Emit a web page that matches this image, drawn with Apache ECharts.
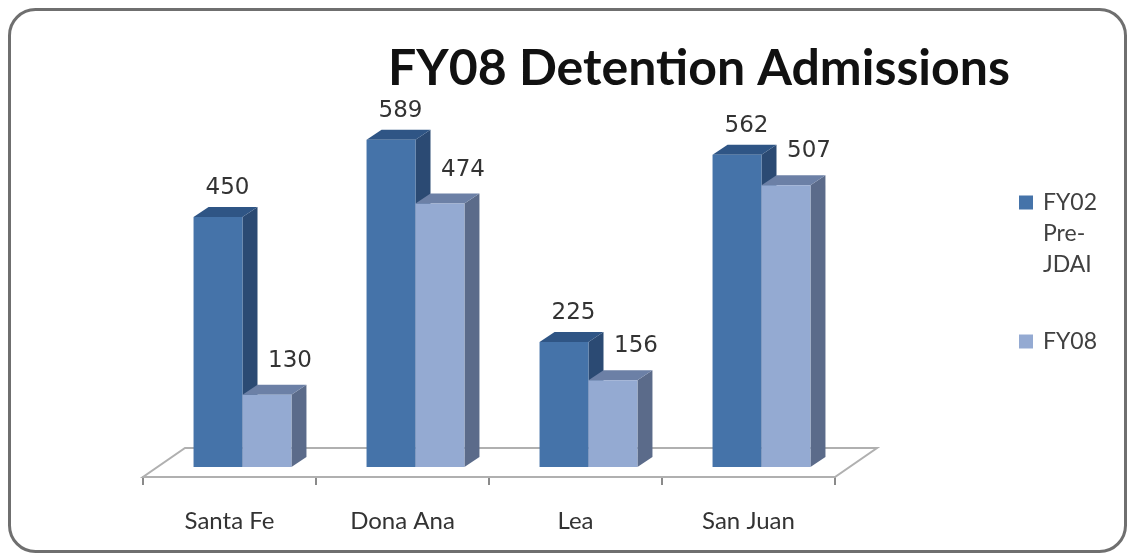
<!DOCTYPE html>
<html>
<head>
<meta charset="utf-8">
<title>FY08 Detention Admissions</title>
<script src="https://cdn.jsdelivr.net/npm/echarts@6/dist/echarts.min.js"></script>
<style>
  html, body { margin: 0; padding: 0; background: #fff; }
  #main { width: 1129px; height: 555px; }
</style>
</head>
<body>
<div id="main"></div>
<script>
// data
var counties = ['Santa Fe', 'Dona Ana', 'Lea', 'San Juan'];
var seriesNames = ['FY02 Pre-JDAI', 'FY08'];
var fy02Values = [450, 589, 225, 562];
var fy08Values = [130, 474, 156, 507];

// 3d look
var DEPTH_X = 15, DEPTH_Y = 10;     // bar depth
var PLANE_X = 13, PLANE_Y = 10;     // bars sit a bit behind the front floor edge
var FLOOR_X = 42, FLOOR_Y = 29;     // floor depth
var BAR_RATIO = 0.283;              // width of one bar / category width

var palette = [
    { front: '#4573a9', top: '#2f5585', side: '#2b4a73' },
    { front: '#94aad2', top: '#6c80a6', side: '#5b6b8a' }
];

function barRenderer(idx) {
    var c = palette[idx];
    return function (params, api) {
        var base = api.coord([api.value(0), 0]);
        var top = api.coord([api.value(0), api.value(1)]);
        var w = api.size([1, 0])[0] * BAR_RATIO;
        var pairCenter = base[0] + PLANE_X;
        var x0 = idx === 0 ? pairCenter - w : pairCenter;
        var yb = base[1] - PLANE_Y;
        var yt = top[1] - PLANE_Y;
        var labelX, labelY;
        if (idx === 0) {
            labelX = x0 + w / 2 + DEPTH_X / 2 + 2;
            labelY = yt - 29;
        } else {
            labelX = x0 + w / 2 + 23;
            labelY = yt - 34;
        }
        return {
            type: 'group',
            children: [
                {
                    type: 'polygon',
                    shape: { points: [[x0 + w, yt], [x0 + w + DEPTH_X, yt - DEPTH_Y], [x0 + w + DEPTH_X, yb - DEPTH_Y], [x0 + w, yb]] },
                    style: { fill: c.side }
                },
                {
                    type: 'polygon',
                    shape: { points: [[x0, yt], [x0 + w, yt], [x0 + w + DEPTH_X, yt - DEPTH_Y], [x0 + DEPTH_X, yt - DEPTH_Y]] },
                    style: { fill: c.top }
                },
                {
                    type: 'rect',
                    shape: { x: x0, y: yt, width: w, height: yb - yt },
                    style: { fill: c.front }
                },
                {
                    type: 'text',
                    style: {
                        text: String(api.value(1)),
                        x: labelX, y: labelY,
                        align: 'center', verticalAlign: 'middle',
                        fontFamily: 'DejaVu Sans', fontSize: 23,
                        fill: '#333'
                    }
                }
            ]
        };
    };
}

function floorRenderer(params, api) {
    var cs = params.coordSys;
    var yf = cs.y + cs.height;
    return {
        type: 'polygon',
        shape: { points: [[cs.x, yf], [cs.x + cs.width, yf], [cs.x + cs.width + FLOOR_X, yf - FLOOR_Y], [cs.x + FLOOR_X, yf - FLOOR_Y]] },
        style: { fill: '#fff', stroke: '#b0b0b0', lineWidth: 2 }
    };
}

var chart = echarts.init(document.getElementById('main'));

var option = {
    backgroundColor: '#fff',
    animation: false,
    title: {
        text: 'FY08 Detention Admissions',
        left: 694,
        top: 39,
        textAlign: 'center',
        textStyle: { fontFamily: 'Lato', fontWeight: 'bold', fontSize: 50, color: '#111' }
    },
    legend: {
        data: seriesNames,
        orient: 'vertical',
        left: 1019,
        top: 125,
        padding: 0,
        itemGap: 46,
        itemWidth: 14,
        itemHeight: 14,
        icon: 'rect',
        formatter: function (name) {
            // long name wraps into three lines, first one next to the marker
            return name.indexOf(' ') >= 0 ? '\n\n' + name.replace(' ', '\n').replace('-', '-\n') : name;
        },
        textStyle: { fontFamily: 'Lato', fontSize: 23, lineHeight: 31, color: '#404040', padding: [0, 0, 0, 5] }
    },
    graphic: [{
        type: 'rect',
        shape: { x: 9.5, y: 9.5, width: 1116, height: 542, r: 26 },
        style: { fill: 'none', stroke: '#6f6f6f', lineWidth: 3 },
        silent: true
    }],
    grid: { left: 143, right: 294, top: 88, bottom: 78 },
    xAxis: {
        type: 'category',
        data: counties,
        axisLine: { lineStyle: { color: '#a0a0a0', width: 2 } },
        axisTick: { show: true, length: 8, lineStyle: { color: '#8a8a8a', width: 2 } },
        axisLabel: { margin: 32, fontFamily: 'Lato', fontSize: 24, color: '#333' }
    },
    yAxis: {
        type: 'value',
        min: 0,
        max: 700,
        show: false
    },
    series: [
        {
            type: 'custom',
            name: 'floor',
            renderItem: floorRenderer,
            data: [[0, 0]],
            z: 1,
            silent: true
        },
        {
            type: 'custom',
            name: seriesNames[0],
            renderItem: barRenderer(0),
            itemStyle: { color: palette[0].front },
            data: fy02Values.map(function (v, i) { return [i, v]; }),
            z: 2
        },
        {
            type: 'custom',
            name: seriesNames[1],
            renderItem: barRenderer(1),
            itemStyle: { color: palette[1].front },
            data: fy08Values.map(function (v, i) { return [i, v]; }),
            z: 2
        }
    ]
};

chart.setOption(option);
</script>
</body>
</html>
